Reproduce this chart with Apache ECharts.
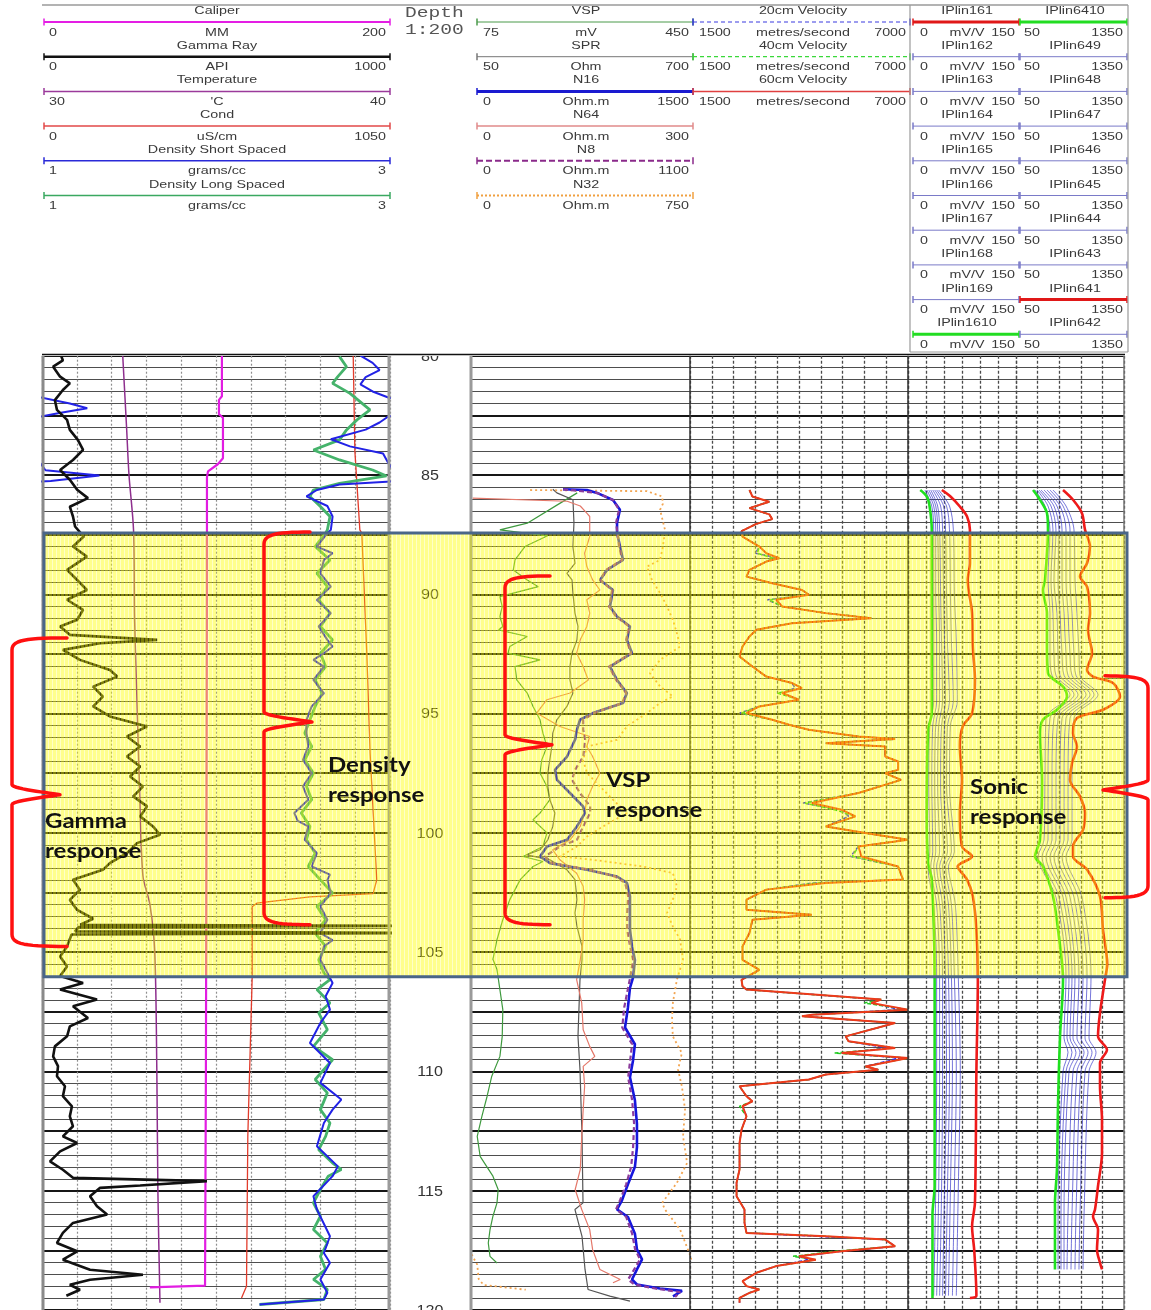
<!DOCTYPE html>
<html>
<head>
<meta charset="utf-8">
<title>Borehole geophysical log, 80-120 m</title>
<script src="https://cdn.jsdelivr.net/npm/echarts@6/dist/echarts.min.js"></script>
<style>
html,body{margin:0;padding:0;background:#fff;}
#chart{width:1151px;height:1310px;}
</style>
</head>
<body>
<div id="chart"></div>
<script>
// ---------- scales shown in the header ----------
const caliperScale = [0, 200];
const gammaScale = [0, 1000];
const tempScale = [30, 40];
const condScale = [0, 1050];
const densityScale = [1, 3];
const vspScale = [75, 450];
const sprScale = [50, 700];
const n16Scale = [0, 1500];
const n64Scale = [0, 300];
const n8Scale = [0, 1100];
const n32Scale = [0, 750];
const velocityScale = [1500, 7000];
const ipl16Scale = [0, 150];
const ipl64Scale = [50, 1350];
const depthRange = [80, 120];
const depthLabels = [80, 85, 90, 95, 100, 105, 110, 115, 120];
const highlightZone = [87.43, 106.03];

// ---------- track 1 logs: [depth m, value] ----------
const caliperMM = [[80.0,103.4],[81.7,103.4],[81.85,101.7],[82.45,101.7],[82.6,104.0],[84.3,104.0],[84.55,101.0],[84.85,95.4],[85.1,94.8],[90,94.8],[100,94.5],[110,94.2],[118.98,93.7],[119.05,62]];
const gammaAPI = [[80.0,55],[80.2,60],[80.46,32],[80.88,52],[81.16,80],[81.44,60],[81.86,37],[82.27,43],[82.69,72],[83.11,80],[83.53,103],[83.95,118],[84.37,89],[84.79,52],[85.2,80],[85.62,101],[85.97,132],[86.33,80],[86.74,89],[87.16,95],[87.58,120],[88.0,89],[88.42,129],[88.98,72],[89.4,101],[89.82,129],[90.23,72],[90.65,118],[91.07,101],[91.35,52],[91.7,80],[91.91,331],[92.05,167],[92.33,60],[92.75,109],[93.17,195],[93.45,216],[93.87,147],[94.29,175],[94.7,147],[95.12,195],[95.54,302],[95.96,244],[96.38,282],[96.8,244],[97.22,282],[97.64,253],[98.06,290],[98.47,262],[98.89,302],[99.31,282],[99.73,319],[100.08,339],[100.43,273],[100.85,244],[101.27,195],[101.55,175],[101.97,89],[102.39,109],[102.81,80],[103.23,101],[103.6,147],[103.85,110],[103.9,1150],[103.95,105],[104.13,95],[104.2,1150],[104.26,85],[104.76,72],[105.18,52],[105.6,72],[106.0,52],[106.29,118],[106.57,52],[106.99,158],[107.27,89],[107.76,132],[108.11,80],[108.53,72],[108.95,37],[109.37,32],[109.78,46],[110.2,43],[110.62,66],[111.04,60],[111.46,86],[111.88,80],[112.3,89],[112.72,60],[113.0,101],[113.35,52],[113.77,23],[114.12,60],[114.46,89],[114.6,474],[114.78,282],[114.88,167],[115.23,138],[115.65,158],[116.0,187],[116.35,89],[116.77,60],[117.19,43],[117.54,101],[117.89,60],[118.31,138],[118.52,290],[118.73,138],[118.94,80],[119.15,109],[119.4,70]];
const temperatureC = [[80.0,32.32],[83.0,32.43],[85.0,32.5],[87.3,32.63],[91.0,32.66],[94.0,32.72],[98.0,32.8],[101.8,32.9],[103.0,33.1],[105.0,33.24],[110.0,33.3],[115.0,33.33],[119.7,33.39]];
const condUS = [[80.0,939],[84.0,944],[87.3,959],[87.44,965],[92.47,980],[96.66,990],[101.97,1010],[102.55,999],[102.68,808],[102.95,648],[103.1,634],[106.15,634],[112.72,621],[119.0,617],[119.5,602]];
const densityLong = [[80.04,2.71],[80.46,2.75],[80.88,2.70],[81.16,2.67],[81.58,2.77],[82.27,2.885],[82.69,2.81],[83.11,2.75],[83.53,2.71],[83.95,2.56],[84.37,2.71],[84.79,2.90],[85.04,2.98],[85.35,2.71],[85.63,2.56],[85.9,2.54],[86.32,2.60],[86.74,2.655],[87.3,2.64],[87.44,2.63],[88.0,2.57],[88.56,2.655],[89.12,2.58],[89.68,2.64],[90.24,2.59],[90.79,2.655],[91.35,2.60],[91.91,2.67],[92.47,2.60],[93.03,2.63],[93.59,2.57],[94.15,2.61],[94.7,2.57],[95.26,2.54],[95.82,2.51],[96.38,2.55],[96.94,2.51],[97.5,2.56],[98.05,2.52],[98.61,2.55],[99.17,2.49],[99.73,2.54],[100.29,2.52],[100.85,2.57],[101.41,2.53],[101.97,2.60],[102.52,2.67],[103.08,2.58],[103.64,2.63],[104.2,2.57],[104.76,2.63],[105.32,2.59],[105.87,2.62],[106.15,2.655],[106.57,2.58],[107.13,2.655],[107.55,2.59],[108.25,2.64],[108.95,2.56],[109.51,2.67],[110.34,2.57],[110.9,2.64],[111.6,2.60],[112.16,2.655],[112.72,2.63],[113.28,2.59],[113.84,2.67],[114.11,2.72],[114.39,2.645],[114.95,2.60],[115.51,2.56],[116.07,2.60],[116.63,2.56],[117.19,2.64],[117.75,2.60],[118.3,2.63],[118.72,2.56],[119.14,2.64],[119.56,2.62],[119.77,2.25]];
const densityShort = [[80.0,2.83],[80.3,2.90],[80.6,2.94],[80.9,2.86],[81.2,2.83],[81.5,2.90],[81.75,2.99],[82.0,3.16],[82.2,3.26],[82.4,3.10],[82.55,2.99],[82.8,2.94],[83.1,2.86],[83.5,2.66],[83.8,2.77],[84.1,2.96],[84.5,2.99],[84.8,3.02],[85.02,3.33],[85.25,3.05],[85.4,2.71],[85.63,2.58],[85.9,2.52],[86.3,2.64],[86.74,2.67],[87.3,2.66],[87.44,2.64],[88.0,2.58],[88.28,2.67],[88.56,2.62],[89.12,2.60],[89.68,2.66],[90.24,2.58],[90.79,2.66],[91.35,2.59],[91.91,2.64],[92.19,2.67],[92.47,2.62],[92.75,2.56],[93.03,2.62],[93.59,2.56],[94.15,2.62],[94.7,2.55],[95.26,2.52],[95.82,2.52],[96.38,2.53],[96.94,2.50],[97.5,2.55],[98.05,2.50],[98.61,2.53],[99.17,2.45],[99.5,2.47],[99.73,2.53],[100.29,2.51],[100.85,2.58],[101.41,2.55],[101.75,2.655],[101.97,2.64],[102.52,2.66],[103.08,2.60],[103.64,2.64],[104.2,2.60],[104.5,2.67],[104.76,2.62],[105.32,2.60],[105.87,2.64],[106.29,2.67],[106.85,2.63],[107.41,2.655],[107.97,2.60],[108.81,2.54],[109.65,2.655],[110.48,2.60],[111.18,2.72],[111.6,2.67],[112.16,2.62],[113.14,2.58],[113.98,2.70],[114.39,2.67],[115.23,2.56],[115.79,2.58],[116.91,2.655],[117.61,2.62],[118.02,2.655],[118.72,2.60],[119.28,2.64],[119.56,2.62],[119.77,2.25]];

// ---------- track 2 logs ----------
const vspMV = [[85.75,256],[86.19,226],[87.02,170],[87.3,123],[87.55,205],[88.0,166],[88.56,149],[88.98,146],[89.4,170],[89.68,189],[90.1,123],[90.52,127],[90.93,123],[91.35,128],[91.49,121],[91.77,170],[92.19,140],[92.47,137],[92.75,192],[93.03,149],[93.59,152],[94.14,170],[94.7,180],[95.26,192],[95.82,197],[96.38,204],[96.94,195],[97.49,192],[98.06,204],[98.61,209],[99.17,192],[99.45,180],[100.0,204],[100.57,197],[100.99,163],[101.2,197],[101.41,180],[101.96,158],[102.8,140],[103.64,128],[104.48,118],[105.3,111],[105.73,118],[106.57,123],[107.41,128],[108.53,127],[109.37,123],[110.2,109],[111.04,101],[111.88,92],[112.72,84],[113.56,89],[114.39,111],[114.95,120],[115.51,118],[116.07,111],[116.63,106],[117.19,103],[117.75,106],[118.03,118]];
const sprOhm = [[85.6,291],[85.75,303],[86.04,351],[87.0,354],[88.0,351],[88.7,357],[89.12,333],[89.4,348],[89.95,351],[90.79,357],[91.35,366],[91.91,363],[92.47,348],[93.03,342],[93.59,342],[94.14,351],[94.7,333],[95.26,303],[95.82,291],[96.38,288],[96.94,282],[97.5,276],[98.05,276],[98.61,282],[99.17,297],[99.73,291],[100.29,276],[100.71,253],[100.92,214],[101.13,282],[101.55,333],[101.96,357],[102.8,363],[103.36,357],[103.92,363],[104.76,378],[105.32,378],[106.15,372],[108.53,366],[109.93,372],[112.72,378],[115.51,381],[115.79,357],[116.91,378],[118.3,387],[119.14,396],[119.42,461],[119.63,521]];
const n16Ohm = [[85.6,626],[85.63,791],[85.75,860],[86.05,970],[86.46,1018],[87.0,998],[87.43,998],[87.98,1018],[88.56,1039],[88.98,929],[89.4,881],[89.82,970],[90.52,949],[90.93,998],[91.35,1087],[91.91,1066],[92.47,1101],[93.03,949],[93.59,998],[94.14,1066],[94.56,1039],[94.98,832],[95.26,743],[95.68,722],[96.1,709],[96.8,654],[97.36,571],[97.78,585],[98.33,674],[98.89,764],[99.17,777],[99.73,722],[100.29,654],[100.57,516],[100.99,468],[101.27,537],[101.55,791],[101.83,998],[102.1,1066],[102.66,1087],[103.36,1087],[104.06,1087],[104.76,1101],[105.33,1121],[106.07,1108],[106.5,1087],[107.32,1073],[108.16,1053],[108.86,1121],[109.54,1108],[110.25,1087],[111.21,1121],[112.2,1135],[113.17,1135],[114.0,1121],[114.73,1073],[115.4,1032],[115.78,998],[116.1,1073],[116.8,1121],[117.46,1135],[117.88,1170],[118.3,1135],[118.72,1101],[118.93,1135],[119.1,1293],[119.2,1445],[119.43,1383]];
const n64Ohm = [[85.97,1],[86.1,131],[86.3,149],[86.6,158],[86.74,162],[87.3,162],[87.58,162],[88.28,155],[88.84,158],[89.4,166],[89.82,176],[90.23,158],[90.79,162],[91.35,158],[91.91,149],[92.47,144],[93.03,153],[93.59,160],[94.14,135],[94.42,103],[94.98,89],[95.54,121],[95.96,162],[96.38,158],[96.8,166],[97.5,176],[98.05,166],[98.61,158],[99.17,155],[99.73,149],[100.29,135],[100.71,111],[101.13,121],[101.69,144],[102.24,153],[102.8,155],[103.64,153],[104.48,153],[105.32,149],[106.15,144],[107.13,151],[108.25,153],[108.95,162],[109.37,169],[109.79,153],[110.62,155],[111.6,153],[112.72,151],[114.11,149],[114.95,142],[115.79,151],[116.63,162],[117.47,166],[118.3,176],[118.72,204],[118.86,194]];
const n8Ohm = [[85.6,460],[85.75,631],[86.05,712],[86.46,742],[87.0,727],[87.98,742],[88.56,758],[88.98,677],[89.4,646],[89.82,707],[90.52,692],[90.93,727],[91.35,793],[91.91,778],[92.47,803],[93.03,692],[93.59,727],[94.14,778],[94.56,758],[94.98,616],[95.26,561],[95.68,561],[96.1,571],[96.8,561],[97.36,520],[97.78,505],[98.33,545],[98.89,596],[99.17,596],[99.73,561],[100.29,530],[100.57,444],[100.99,369],[101.27,404],[101.55,596],[101.83,722],[102.1,773],[102.66,788],[103.36,783],[104.06,783],[104.76,798],[105.33,813],[106.07,798],[107.32,768],[108.16,758],[108.86,808],[109.54,798],[110.25,788],[111.21,808],[112.2,818],[113.17,813],[114.0,803],[114.73,778],[115.4,747],[115.78,727],[116.1,778],[116.8,808],[117.46,823],[117.88,848],[118.3,818],[118.72,788],[118.93,818],[119.1,924],[119.25,1050],[119.45,1025]];
const n32Ohm = [[85.63,200],[85.68,602],[85.9,654],[86.2,657],[86.46,647],[87.3,664],[88.0,657],[88.56,647],[88.84,602],[89.4,619],[89.95,647],[90.51,671],[91.07,691],[91.63,705],[92.19,716],[92.75,647],[93.31,612],[93.86,647],[94.28,691],[94.56,647],[94.98,602],[95.54,533],[96.1,499],[96.38,396],[96.94,382],[97.5,396],[98.05,440],[98.61,485],[99.17,533],[99.73,451],[100.15,396],[100.57,361],[100.99,303],[101.13,416],[101.41,588],[101.69,691],[102.24,705],[102.8,691],[103.36,671],[103.92,691],[104.48,716],[105.32,726],[106.15,705],[107.13,691],[107.83,688],[108.53,691],[109.23,722],[109.93,709],[110.62,722],[111.6,733],[112.72,726],[113.84,740],[114.67,705],[115.51,654],[115.79,664],[116.63,716],[117.47,743],[117.75,752],[118.1,768],[118.7,773],[118.95,790],[119.15,935]];

// ---------- track 3 logs: sonic velocities at common depths ----------
const velDepth = [85.63,85.9,86.12,86.39,86.65,86.85,87.05,87.35,87.58,88.0,88.28,88.49,88.63,88.98,89.26,89.54,89.82,90.02,90.23,90.51,90.79,91.0,91.21,91.49,91.77,92.19,92.61,93.03,93.45,93.72,93.93,94.14,94.42,94.7,94.98,95.26,95.47,95.68,95.96,96.07,96.24,96.38,96.8,97.01,97.36,97.5,97.78,98.33,98.75,99.03,99.31,99.73,100.01,100.29,100.57,100.99,101.41,101.96,102.1,102.38,102.8,103.22,103.43,103.64,104.2,104.76,105.32,105.74,106.16,106.43,106.57,106.99,107.13,107.41,107.62,107.69,107.97,108.53,108.74,109.02,109.23,109.44,109.79,109.93,110.13,110.34,110.62,111.04,111.25,111.46,111.88,112.44,113.0,113.56,114.11,114.67,115.23,115.79,116.35,116.77,116.91,117.05,117.33,117.54,117.75,117.89,118.16,118.44,118.79,119.0,119.14,119.28,119.49,119.7];
const vel60cm = [3000,3075,3500,3000,3500,3575,3175,2800,2825,3250,3425,3750,3425,3000,2925,3575,4325,4500,3675,3825,4925,6075,4075,3175,3000,2825,2750,3075,3425,4075,4325,3825,4250,3250,2925,3575,4000,4500,5750,6675,4925,6425,6425,6750,6750,6425,6825,5750,4575,5325,5675,4925,5925,7000,5750,5825,6750,6875,4925,3425,2925,2925,4575,3075,3000,2825,2825,3250,2800,2825,2925,6325,6075,7000,4575,4325,6675,5425,5500,6675,5325,7000,5925,6250,4925,4500,2750,2925,3075,2825,2925,2800,2750,2750,2750,2675,2675,2875,2875,2925,4925,6425,6675,5325,4250,4675,3675,3175,2825,2925,3250,3000,2750,2750];
const vel40cm = [3000,3075,3500,3000,3500,3575,3175,2800,2825,3250,3200,3600,3425,3000,2925,3575,4325,4500,3500,3825,4925,6075,4075,3175,3000,2825,2750,3075,3425,4075,4325,3700,4250,3250,2800,3575,4000,4500,5750,6675,4925,6425,6425,6750,6750,6425,6825,5750,4400,5150,5675,4925,5925,7000,5750,5600,6750,6875,4700,3425,2925,2925,4575,3075,3000,2825,2825,3250,2800,2825,2925,6325,5900,7000,4575,4325,6675,5425,5500,6675,5150,7000,5925,6250,4925,4500,2750,2925,3075,2750,2925,2800,2750,2750,2750,2675,2675,2875,2875,2925,4925,6425,6675,5150,4100,4675,3675,3175,2825,2925,3250,3000,2750,2750];
const vel20cm = [3000,3075,3500,3000,3500,3575,3175,2800,2825,3250,3150,3750,3425,3000,2925,3575,4325,4500,3450,3825,4925,6075,4075,3175,3000,2825,2750,3075,3425,4075,4150,3825,4250,3250,2750,3575,4000,4500,5750,6675,4925,6425,6425,6750,6750,6425,6825,5750,4350,5325,5500,4925,5925,7000,5750,5550,6750,6875,4600,3425,2925,2925,4575,3075,3000,2825,2825,3250,2800,2825,2925,6325,6075,6800,4575,4325,6675,5425,5500,6500,5325,6800,5925,6250,4925,4500,2750,2925,3075,2825,2925,2800,2750,2750,2750,2675,2675,2875,2875,2925,4700,6425,6675,5325,4250,4500,3675,3175,2825,2925,3250,3000,2750,2750];

// ---------- track 4 logs (mV/V) ----------
const IPlin161 = [[85.63,47],[85.9,59],[86.32,72],[86.74,82],[87.3,86],[88.7,86],[89.4,83],[90.79,89],[92.19,90],[93.59,93],[94.98,89],[95.54,76],[96.38,72],[97.78,75],[99.17,72],[100.57,75],[100.99,89],[101.41,69],[101.96,82],[102.66,90],[104.06,95],[106.15,97],[110,95],[115.5,93],[116.5,89],[117.5,92],[119.4,95],[119.5,86]];
const IPlin1610 = [[85.63,17],[85.9,26],[86.32,30],[87.3,33],[89.4,33],[92.19,33],[94.98,33],[95.68,28],[99.17,26],[101.27,28],[101.96,33],[106.15,37],[110,37],[114.8,37],[116,34],[119.5,34]];
const sonicDepth16 = [85.63,86.3,87.3,90,92,94.5,95.5,98,100.8,101.4,103,106,110,115,119.4];
const IPlin169 = [23.5,33.0,35.7,35.7,35.7,35.7,30.3,28.9,30.3,27.6,35.7,39.8,39.8,38.5,35.7];
const IPlin168 = [26.2,35.7,38.5,38.5,39.8,39.8,34.4,33.0,34.4,31.6,39.8,43.9,43.9,42.6,39.8];
const IPlin167 = [28.9,38.5,41.2,42.6,43.9,43.9,38.5,37.1,38.5,35.7,43.9,48.0,48.0,46.6,43.9];
const IPlin166 = [31.6,41.2,43.9,45.3,46.6,48.0,42.6,41.2,43.9,39.8,48.0,52.1,53.5,50.7,48.0];
const IPlin165 = [34.4,45.3,48.0,49.4,50.7,52.1,46.6,45.3,49.4,43.9,52.1,56.2,57.6,54.8,52.1];
const IPlin164 = [37.1,49.4,52.1,53.5,54.8,57.6,50.7,49.4,54.8,48.0,56.2,60.3,61.7,58.9,56.2];
const IPlin163 = [39.8,53.5,57.6,58.9,60.3,63.0,54.8,53.5,60.3,52.1,60.3,64.4,67.1,64.4,61.7];
const IPlin162 = [42.6,57.6,63.0,64.4,67.1,68.5,58.9,57.6,64.4,56.2,65.7,69.8,72.6,69.8,67.1];

// ---------- track 5 logs ----------
const IPlin6410 = [[85.63,255],[86.04,339],[86.6,423],[87.3,435],[89.4,399],[89.82,375],[90.79,423],[92.19,423],[93.3,435],[93.87,616],[94.28,664],[94.84,543],[95.26,375],[95.82,339],[97.78,363],[100.29,339],[100.99,279],[101.41,375],[102.66,495],[104.06,556],[106.15,616],[108.53,580],[111.32,556],[114.11,543],[115.51,519],[117.61,519],[118.3,519]];
const IPlin641 = [[85.63,616],[86.04,736],[86.6,844],[87.3,881],[88.0,941],[88.7,905],[89.26,820],[89.68,905],[90.79,941],[91.49,917],[92.47,965],[93.17,905],[93.45,977],[93.72,1218],[94.28,1302],[94.84,1097],[95.19,784],[95.82,736],[96.38,784],[97.08,724],[97.78,700],[98.47,820],[99.17,881],[99.87,857],[100.57,736],[100.99,736],[101.54,905],[102.66,1061],[104.06,1097],[105.5,1148],[106.16,1121],[107.55,1061],[108.53,1037],[109.09,1145],[109.65,1061],[110.62,1061],[112.02,1085],[113.42,1085],[114.81,1037],[115.79,1001],[116.07,977],[116.63,1037],[117.47,1025],[118.02,1061],[118.3,1085]];
const sonicDepth64 = [85.63,86.3,87.3,89.4,90.8,92.5,93.4,94.2,95.2,97.8,100.3,101.0,102.7,106,108.6,109.2,110,116,118.3];
const IPlin649 = [279,399,459,435,459,459,483,700,411,399,387,315,531,652,628,676,616,556,556];
const IPlin648 = [303,435,495,471,495,507,531,748,459,435,435,363,568,688,664,724,652,592,592];
const IPlin647 = [327,471,531,507,543,556,580,796,507,483,483,411,616,724,700,772,688,628,628];
const IPlin646 = [351,507,568,556,580,604,628,844,556,531,531,459,652,760,736,820,736,676,664];
const IPlin645 = [387,543,604,604,628,652,676,893,604,580,580,507,700,808,784,869,784,724,712];
const IPlin644 = [423,580,652,652,676,700,724,941,652,628,628,556,748,857,832,917,832,772,760];
const IPlin643 = [459,616,700,700,724,748,772,989,700,676,676,604,796,905,881,965,881,820,808];
const IPlin642 = [495,652,748,760,784,808,820,1037,748,724,724,652,844,953,929,1013,929,869,857];

// ---------- header entries ----------
const headerTrack1 = [
  {name:'Caliper', unit:'MM', scale:caliperScale},
  {name:'Gamma Ray', unit:'API', scale:gammaScale},
  {name:'Temperature', unit:"'C", scale:tempScale},
  {name:'Cond', unit:'uS/cm', scale:condScale},
  {name:'Density Short Spaced', unit:'grams/cc', scale:densityScale},
  {name:'Density Long Spaced', unit:'grams/cc', scale:densityScale}
];
const headerTrack2 = [
  {name:'VSP', unit:'mV', scale:vspScale},
  {name:'SPR', unit:'Ohm', scale:sprScale},
  {name:'N16', unit:'Ohm.m', scale:n16Scale},
  {name:'N64', unit:'Ohm.m', scale:n64Scale},
  {name:'N8', unit:'Ohm.m', scale:n8Scale},
  {name:'N32', unit:'Ohm.m', scale:n32Scale}
];
const headerTrack3 = [
  {name:'20cm Velocity', unit:'metres/second', scale:velocityScale},
  {name:'40cm Velocity', unit:'metres/second', scale:velocityScale},
  {name:'60cm Velocity', unit:'metres/second', scale:velocityScale}
];
const headerTrack4 = ['IPlin161','IPlin162','IPlin163','IPlin164','IPlin165','IPlin166','IPlin167','IPlin168','IPlin169','IPlin1610']
  .map(n => ({name:n, unit:'mV/V', scale:ipl16Scale}));
const headerTrack5 = ['IPlin6410','IPlin649','IPlin648','IPlin647','IPlin646','IPlin645','IPlin644','IPlin643','IPlin641','IPlin642']
  .map(n => ({name:n, unit:'', scale:ipl64Scale}));

// ---------- annotation braces (depths) ----------
const braces = [
  {xEnd:67,   xSpine:12,   xTip:60,   top:91.83, mid:98.4,  bottom:104.76},
  {xEnd:310,  xSpine:264,  xTip:312,  top:87.39, mid:95.35, bottom:103.85},
  {xEnd:550,  xSpine:505,  xTip:552,  top:89.23, mid:96.31, bottom:103.85},
  {xEnd:1105, xSpine:1148, xTip:1103, top:93.42, mid:98.2,  bottom:102.72}
];
const notes = [
  {lines:['Gamma','response'], x:45, y:822},
  {lines:['Density','response'], x:328, y:766},
  {lines:['VSP','response'], x:606, y:781},
  {lines:['Sonic','response'], x:970, y:788}
];

// ================= layout & styling =================
const GTOP = 355.7, GHEIGHT = 954.8;
const gridBoxes = [
  {left:42, width:348},   // track 1
  {left:390, width:80},   // depth column
  {left:472, width:218},  // track 2
  {left:690, width:218},  // track 3
  {left:908, width:108},  // track 4
  {left:1016, width:108}  // track 5
];

const chart = echarts.init(document.getElementById('chart'), null, {renderer:'canvas'});

const xAxes = [];
function addX(grid, min, max, extra) {
  xAxes.push(Object.assign({type:'value', gridIndex:grid, min:min, max:max, show:false}, extra || {}));
  return xAxes.length - 1;
}
function gridLinesX(grid, n, lineStyle) {
  return addX(grid, 0, n, {show:true, interval:1, axisLine:{show:false}, axisTick:{show:false},
    axisLabel:{show:false}, splitLine:{show:true, lineStyle:lineStyle}});
}
const vGrid1 = {color:'#8e8e8e', width:1.2, type:[2,2]};
const vGridDark = {color:'#4a4a4a', width:1.3, type:[3,2]};
gridLinesX(0, 10, vGrid1);
const xCal = addX(0, caliperScale[0], caliperScale[1]);
const xGam = addX(0, gammaScale[0], gammaScale[1]);
const xTmp = addX(0, tempScale[0], tempScale[1]);
const xCnd = addX(0, condScale[0], condScale[1]);
const xDen = addX(0, densityScale[0], densityScale[1]);
addX(1, 0, 1);
const xVsp = addX(2, vspScale[0], vspScale[1]);
const xSpr = addX(2, sprScale[0], sprScale[1]);
const xN16 = addX(2, n16Scale[0], n16Scale[1]);
const xN64 = addX(2, n64Scale[0], n64Scale[1]);
const xN8 = addX(2, n8Scale[0], n8Scale[1]);
const xN32 = addX(2, n32Scale[0], n32Scale[1]);
gridLinesX(3, 10, vGridDark);
const xVel = addX(3, velocityScale[0], velocityScale[1]);
gridLinesX(4, 6, vGridDark);
const xI16 = addX(4, ipl16Scale[0], ipl16Scale[1]);
gridLinesX(5, 5, vGridDark);
const xI64 = addX(5, ipl64Scale[0], ipl64Scale[1]);

const yAxes = gridBoxes.map((b, i) => {
  if (i === 1) {
    return {type:'value', gridIndex:1, inverse:true, min:depthRange[0], max:depthRange[1], interval:5,
      show:false};
  }
  return {type:'value', gridIndex:i, inverse:true, min:depthRange[0], max:depthRange[1], interval:2.5,
    axisLine:{show:false}, axisTick:{show:false}, axisLabel:{show:false},
    splitLine:{show:true, lineStyle:{color:'#161616', width:2}},
    minorTick:{show:false, splitNumber:5},
    minorSplitLine:{show:true, lineStyle:{color:'#4e4e4e', width:1.2}}};
});

function log(name, pts, grid, xi, color, width, extra) {
  return Object.assign({
    type:'line', name:name, xAxisIndex:xi, yAxisIndex:grid,
    data: pts.map(p => [p[1], p[0]]),
    symbol:'none', showSymbol:false, animation:false, silent:true, clip:true,
    lineStyle:{color:color, width:width}
  }, extra || {});
}
function fromColumns(depths, vals) { return vals.map((v, i) => [depths[i], v]); }
// Log values past the right end of the scale re-enter from the left (backup wrap).
function wrapped(pts, max, span) {
  return pts.map((p, i) => {
    const near = [i - 1, i, i + 1].some(j => pts[j] && pts[j][1] > max);
    return near ? [p[0], p[1] - span] : [p[0], '-'];
  });
}

const series = [
  log('Temperature', temperatureC, 0, xTmp, '#8e2f8e', 1.5, {smooth:0.3}),
  log('Caliper', caliperMM, 0, xCal, '#e21de2', 2.2),
  log('Cond', condUS, 0, xCnd, '#e23c2c', 1.3),
  log('Density Long Spaced', densityLong, 0, xDen, '#45b36b', 2.8),
  log('Density Short Spaced', densityShort, 0, xDen, '#2222e6', 2),
  log('Density Short Spaced (wrap)', wrapped(densityShort, densityScale[1], 2), 0, xDen, '#2222e6', 2),
  log('Gamma Ray', gammaAPI, 0, xGam, '#111111', 2.6),

  log('VSP', vspMV, 2, xVsp, '#3f9a3f', 1.2),
  log('SPR', sprOhm, 2, xSpr, '#555555', 1.2),
  log('N64', n64Ohm, 2, xN64, '#e4786a', 1.2),
  log('N32', n32Ohm, 2, xN32, '#f2a552', 1.8, {lineStyle:{color:'#f2a552', width:1.8, type:[2,3]}}),
  log('N32 (wrap)', wrapped(n32Ohm, n32Scale[1], n32Scale[1]), 2, xN32, '#f2a552', 1.8, {lineStyle:{color:'#f2a552', width:1.8, type:[2,3]}}),
  log('N16', n16Ohm, 2, xN16, '#1616dc', 2.6),
  log('N8', n8Ohm, 2, xN8, '#8b3c9c', 2.2, {lineStyle:{color:'#8b3c9c', width:2.2, type:[5,3]}}),

  log('20cm Velocity', fromColumns(velDepth, vel20cm), 3, xVel, '#2b2bee', 1.5, {lineStyle:{color:'#2b2bee', width:1.5, type:[4,2]}}),
  log('40cm Velocity', fromColumns(velDepth, vel40cm), 3, xVel, '#22cc22', 1.5, {lineStyle:{color:'#22cc22', width:1.5, type:[4,2]}}),
  log('60cm Velocity', fromColumns(velDepth, vel60cm), 3, xVel, '#ee3a1a', 2)
];
[IPlin169, IPlin168, IPlin167, IPlin166, IPlin165, IPlin164, IPlin163, IPlin162].forEach((v, k) => {
  series.push(log('IPlin16 fan ' + k, fromColumns(sonicDepth16, v), 4, xI16, 'rgba(50,50,200,0.75)', 0.9, {smooth:0.3}));
});
series.push(log('IPlin1610', IPlin1610, 4, xI16, '#1fe01f', 2.6, {smooth:0.3}));
series.push(log('IPlin161', IPlin161, 4, xI16, '#ee1a1a', 2.6, {smooth:0.3}));
[IPlin649, IPlin648, IPlin647, IPlin646, IPlin645, IPlin644, IPlin643, IPlin642].forEach((v, k) => {
  series.push(log('IPlin64 fan ' + k, fromColumns(sonicDepth64, v), 5, xI64, 'rgba(50,50,200,0.75)', 0.9, {smooth:0.3}));
});
series.push(log('IPlin6410', IPlin6410, 5, xI64, '#1fe01f', 2.6, {smooth:0.3}));
series.push(log('IPlin641', IPlin641, 5, xI64, '#ee1a1a', 2.6, {smooth:0.3}));

chart.setOption({
  animation:false,
  backgroundColor:'#ffffff',
  grid: gridBoxes.map(b => ({left:b.left, width:b.width, top:GTOP, height:GHEIGHT, containLabel:false})),
  xAxis: xAxes,
  yAxis: yAxes,
  series: series
});

// ================= header, frame and annotations =================
const HFONT = '11px "Liberation Sans", Arial, sans-serif';
const HSX = 1.3;
const ROW = 34.7;
function txt(x, y, s, align, font, fill, sx, z) {
  return {type:'text', x:x, y:y, scaleX:(sx || HSX), z:(z || 20), silent:true,
    style:{text:s, x:0, y:0, font:(font || HFONT), fill:(fill || '#3a3a3a'),
      textAlign:align, textVerticalAlign:'middle', align:align, verticalAlign:'middle'}};
}
function hline(x1, y1, x2, y2, stroke, w, dash, z) {
  return {type:'line', silent:true, z:(z || 15), shape:{x1:x1, y1:y1, x2:x2, y2:y2},
    style:{stroke:stroke, lineWidth:w, lineDash:(dash || null)}};
}
const headerStyle = {
  'Caliper':{stroke:'#e41ee4', w:2}, 'Gamma Ray':{stroke:'#111', w:2.5}, 'Temperature':{stroke:'#9b3a9b', w:1.5},
  'Cond':{stroke:'#e24848', w:1.5}, 'Density Short Spaced':{stroke:'#2a2ad8', w:1.5}, 'Density Long Spaced':{stroke:'#3aa860', w:1.5},
  'VSP':{stroke:'#4a9a4a', w:1}, 'SPR':{stroke:'#777', w:1}, 'N16':{stroke:'#1a1ad0', w:3}, 'N64':{stroke:'#e08a8a', w:1.5},
  'N8':{stroke:'#8a2a8a', w:2, dash:[6,3]}, 'N32':{stroke:'#f0a040', w:2, dash:[2,2]},
  '20cm Velocity':{stroke:'#3a3ae0', w:1.2, dash:[4,3]}, '40cm Velocity':{stroke:'#3ad83a', w:1.2, dash:[4,3]},
  '60cm Velocity':{stroke:'#e04040', w:1.5},
  'IPlin161':{stroke:'#e01818', w:3}, 'IPlin1610':{stroke:'#22dd22', w:3},
  'IPlin6410':{stroke:'#22dd22', w:3}, 'IPlin641':{stroke:'#e01818', w:3}
};
const thinHeader = {stroke:'#7a7ac8', w:1};
const headerCols = [
  {rows:headerTrack1, x0:44,  x1:390,  lbl0:49,  mid:217,  unitX:217,  lbl1:386},
  {rows:headerTrack2, x0:477, x1:693,  lbl0:483, mid:586,  unitX:586,  lbl1:689},
  {rows:headerTrack3, x0:693, x1:910,  lbl0:699, mid:803,  unitX:803,  lbl1:906},
  {rows:headerTrack4, x0:913, x1:1019, lbl0:920, mid:967,  unitX:967,  lbl1:1015},
  {rows:headerTrack5, x0:1020,x1:1127, lbl0:1024,mid:1075, unitX:1075, lbl1:1123}
];

const G = [];
const toY = d => chart.convertToPixel({yAxisIndex:0}, d);

// depth column labels
depthLabels.forEach(d => {
  G.push(txt(430, toY(d) + 1, String(d), 'center', '14px "Liberation Sans", Arial, sans-serif', '#333', 1.15, 5));
});
// header background (also hides the upper half of the first depth label)
G.push({type:'rect', silent:true, z:10, shape:{x:0, y:0, width:1151, height:356}, style:{fill:'#ffffff'}});
headerCols.forEach(col => {
  col.rows.forEach((r, i) => {
    const yT = 11 + ROW * i, yL = 22 + ROW * i, yS = 32.5 + ROW * i;
    const st = headerStyle[r.name] || thinHeader;
    G.push(txt(col.mid, yT, r.name, 'center'));
    G.push(hline(col.x0, yL, col.x1, yL, st.stroke, st.w, st.dash));
    G.push(hline(col.x0, yL - 3.5, col.x0, yL + 3.5, st.stroke, 1.5));
    G.push(hline(col.x1, yL - 3.5, col.x1, yL + 3.5, st.stroke, 1.5));
    G.push(txt(col.lbl0, yS, String(r.scale[0]), 'left'));
    if (r.unit) G.push(txt(col.unitX, yS, r.unit, 'center'));
    G.push(txt(col.lbl1, yS, String(r.scale[1]), 'right'));
  });
});
G.push(txt(405, 13, 'Depth', 'left', '14px "Liberation Mono", monospace', '#555', 1.4));
G.push(txt(405, 30, '1:200', 'left', '14px "Liberation Mono", monospace', '#555', 1.4));
// header frame
G.push(hline(42, 5, 1128, 5, '#9a9a9a', 1.5));
G.push(hline(910, 5, 910, 352, '#9a9a9a', 1.2));
G.push(hline(1128, 5, 1128, 352, '#9a9a9a', 1.2));
G.push(hline(910, 352, 1128, 352, '#9a9a9a', 1.2));
G.push(hline(42, 354.5, 1125, 354.5, '#111', 1.6, null, 30));

// track borders
const yTopPx = GTOP, yBotPx = GTOP + GHEIGHT;
const tr1 = gridBoxes[0], tr2 = gridBoxes[2], tr3 = gridBoxes[3], tr4 = gridBoxes[4], tr5 = gridBoxes[5];
G.push(hline(tr1.left + 1, yTopPx, tr1.left + 1, yBotPx, '#8a8a8a', 3, null, 30));
G.push(hline(tr1.left + tr1.width - 1, yTopPx, tr1.left + tr1.width - 1, yBotPx, '#9a9a9a', 3, null, 30));
G.push(hline(tr2.left - 1, yTopPx, tr2.left - 1, yBotPx, '#9a9a9a', 3, null, 30));
G.push(hline(tr3.left, yTopPx, tr3.left, yBotPx, '#333', 1.5, null, 30));
G.push(hline(tr4.left, yTopPx, tr4.left, yBotPx, '#333', 1.5, null, 30));
G.push(hline(tr5.left + tr5.width, yTopPx, tr5.left + tr5.width, yBotPx, '#777', 1.5, null, 30));

// highlighted interval
const hzTop = toY(highlightZone[0]), hzBot = toY(highlightZone[1]);
const pc = document.createElement('canvas');
pc.width = 4; pc.height = 4;
const pg = pc.getContext('2d');
pg.fillStyle = 'rgba(255,255,0,0.45)';
pg.fillRect(0, 0, 4, 4);
pg.clearRect(0, 0, 1, 4);
pg.fillStyle = 'rgba(255,255,0,0.22)';
pg.fillRect(0, 0, 1, 4);
G.push({type:'rect', silent:true, z:100, shape:{x:44, y:hzTop, width:1083, height:hzBot - hzTop},
  style:{fill:{image:pc, repeat:'repeat'}}});
G.push({type:'rect', silent:true, z:101, shape:{x:44, y:hzTop, width:1083, height:hzBot - hzTop},
  style:{fill:'rgba(0,0,0,0)', stroke:'#4a6688', lineWidth:3}});

// red braces
function bracePoints(b) {
  const yT = toY(b.top), yM = toY(b.mid), yB = toY(b.bottom);
  const s = Math.sign(b.xEnd - b.xSpine), xs = b.xSpine;
  const pts = [[b.xEnd, yT]];
  const seg = (p0, p1, p2, p3) => {
    for (let i = 1; i <= 14; i++) {
      const t = i / 14, u = 1 - t;
      pts.push([u*u*u*p0[0] + 3*u*u*t*p1[0] + 3*u*t*t*p2[0] + t*t*t*p3[0],
                u*u*u*p0[1] + 3*u*u*t*p1[1] + 3*u*t*t*p2[1] + t*t*t*p3[1]]);
    }
  };
  seg([b.xEnd, yT], [xs + s*14, yT], [xs, yT + 2], [xs, yT + 12]);
  pts.push([xs, yM - 10]);
  seg([xs, yM - 10], [xs, yM - 6], [b.xTip - s*12, yM - 2], [b.xTip, yM]);
  seg([b.xTip, yM], [b.xTip - s*12, yM + 2], [xs, yM + 6], [xs, yM + 10]);
  pts.push([xs, yB - 12]);
  seg([xs, yB - 12], [xs, yB - 2], [xs + s*14, yB], [b.xEnd, yB]);
  return pts;
}
braces.forEach(b => {
  G.push({type:'polyline', silent:true, z:110, shape:{points:bracePoints(b)},
    style:{stroke:'#ff1010', lineWidth:3.5, fill:null, lineJoin:'round', lineCap:'round'}});
});
notes.forEach(n => {
  n.lines.forEach((s, k) => {
    G.push(txt(n.x, n.y + 30 * k, s, 'left', 'bold 20px Lato, "Open Sans", sans-serif', '#111', 1.2, 120));
  });
});

chart.setOption({graphic:{elements:G}});
</script>
</body>
</html>
